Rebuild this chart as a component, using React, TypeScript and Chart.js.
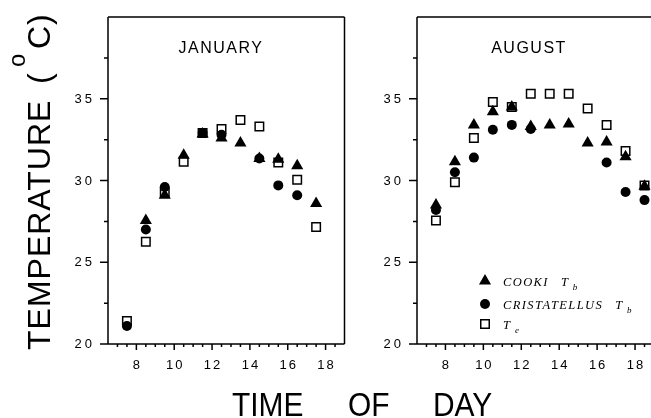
import React, { useEffect, useRef } from "react";
import { Chart, registerables } from "chart.js";

Chart.register(...registerables);

// ---- data ----
const hours = [7.5, 8.5, 9.5, 10.5, 11.5, 12.5, 13.5, 14.5, 15.5, 16.5, 17.5, 18.5];

const janCooki = [null, 27.55, 29.1, 31.55, 32.85, 32.6, 32.3, 31.35, 31.3, 30.9, 28.6, null];
const janCristatellus = [21.1, 27.0, 29.6, null, 32.9, 32.8, null, 31.35, 29.7, 29.1, null, null];
const janTe = [21.4, 26.25, 29.3, 31.15, 32.9, 33.15, 33.7, 33.3, 31.1, 30.05, 27.15, null];

const augCooki = [28.5, 31.15, 33.4, 34.2, 34.5, 33.3, 33.4, 33.45, 32.3, 32.35, 31.45, 29.65];
const augCristatellus = [28.2, 30.5, 31.4, 33.1, 33.4, 33.15, null, null, null, 31.1, 29.3, 28.8];
const augTe = [27.55, 29.9, 32.6, 34.8, 34.5, 35.3, 35.3, 35.3, 34.4, 33.4, 31.8, 29.7];

const xTickValues = [8, 10, 12, 14, 16, 18];
const yTickValues = [20, 25, 30, 35];
const xMinorStep = 0.5;
const yMinorStep = 2.5;
const X_MIN = 6.5;
const X_MAX = 19;
const Y_MIN = 20;
const Y_MAX = 40;

const legendLabels = ["COOKI", "CRISTATELLUS", ""];
const SANS = '"Liberation Sans", Arial, sans-serif';
const SERIF = '"Liberation Serif", "Times New Roman", serif';

function toPoints(vals: (number | null)[]) {
  const out: { x: number; y: number }[] = [];
  hours.forEach((h, i) => {
    const v = vals[i];
    if (v !== null && v !== undefined) out.push({ x: h, y: v });
  });
  return out;
}

type PanelProps = {
  left: number;
  width: number;
  yAxisWidth: number;
  padRight: number;
  title: string;
  titleCenter: number;
  cooki: (number | null)[];
  crist: (number | null)[];
  te: (number | null)[];
  rightBorder: boolean;
  yTitle: boolean;
  legend: boolean;
};

function drawTriangle(ctx: CanvasRenderingContext2D, x: number, y: number, r: number) {
  ctx.beginPath();
  ctx.moveTo(x, y - r);
  ctx.lineTo(x + r * Math.sin((2 * Math.PI) / 3), y - r * Math.cos((2 * Math.PI) / 3));
  ctx.lineTo(x + r * Math.sin((4 * Math.PI) / 3), y - r * Math.cos((4 * Math.PI) / 3));
  ctx.closePath();
  ctx.fill();
}

function Panel(p: PanelProps) {
  const ref = useRef<HTMLCanvasElement | null>(null);
  useEffect(() => {
    if (!ref.current) return;
    const decor = {
      id: "decor",
      beforeDatasetsDraw(chart: any) {
        const { ctx, chartArea: a, scales } = chart;
        const xs = scales.x;
        const ys = scales.y;
        ctx.save();
        ctx.strokeStyle = "#000";
        ctx.lineWidth = 1.5;
        ctx.beginPath();
        ctx.moveTo(a.left, a.top);
        ctx.lineTo(a.left, a.bottom);
        ctx.moveTo(a.left, a.bottom);
        ctx.lineTo(a.right, a.bottom);
        ctx.moveTo(a.left, a.top);
        ctx.lineTo(a.right, a.top);
        if (p.rightBorder) {
          ctx.moveTo(a.right, a.top);
          ctx.lineTo(a.right, a.bottom);
        }
        for (let v = Y_MIN; v < Y_MAX - 0.01; v += yMinorStep) {
          const y = ys.getPixelForValue(v);
          const len = v % 5 === 0 ? 8 : 4;
          ctx.moveTo(a.left - len, y);
          ctx.lineTo(a.left, y);
        }
        for (let v = X_MIN + 0.5; v < X_MAX - 0.01; v += xMinorStep) {
          const x = xs.getPixelForValue(v);
          const len = v % 2 === 0 ? 6 : 3;
          ctx.moveTo(x, a.bottom);
          ctx.lineTo(x, a.bottom + len);
        }
        ctx.stroke();

        ctx.fillStyle = "#000";
        ctx.font = `13px ${SANS}`;
        (ctx as any).letterSpacing = "3px";
        ctx.textAlign = "right";
        ctx.textBaseline = "middle";
        ys.ticks.forEach((t: any) => {
          ctx.fillText(String(t.value), a.left - 16 + 3, ys.getPixelForValue(t.value) + 0.5);
        });
        (ctx as any).letterSpacing = "2px";
        ctx.textAlign = "center";
        xs.ticks.forEach((t: any) => {
          ctx.fillText(String(t.value), xs.getPixelForValue(t.value) + 1, a.bottom + 21);
        });

        // panel title
        ctx.font = `16px ${SANS}`;
        (ctx as any).letterSpacing = "1.5px";
        ctx.textAlign = "center";
        ctx.textBaseline = "alphabetic";
        ctx.fillText(p.title, p.titleCenter, 53);

        if (p.yTitle) {
          ctx.save();
          ctx.translate(50, 350);
          ctx.rotate(-Math.PI / 2);
          ctx.textAlign = "left";
          ctx.textBaseline = "alphabetic";
          ctx.font = `32px ${SANS}`;
          (ctx as any).letterSpacing = "1px";
          ctx.fillText("TEMPERATURE", 0, 0);
          ctx.fillText("(", 266, 0);
          ctx.font = `24px ${SANS}`;
          ctx.fillText("o", 283, -25);
          ctx.font = `32px ${SANS}`;
          ctx.fillText("C", 301, 0);
          ctx.fillText(")", 325, 0);
          ctx.restore();
        }

        if (p.legend) {
          const mx = 133;
          const tx = 151;
          const rows = [281, 304, 324];
          ctx.fillStyle = "#000";
          drawTriangle(ctx, mx, rows[0], 7);
          ctx.beginPath();
          ctx.arc(mx, rows[1], 5, 0, Math.PI * 2);
          ctx.fill();
          ctx.fillStyle = "#fff";
          ctx.fillRect(mx - 4.25, rows[2] - 4.25, 8.5, 8.5);
          ctx.strokeRect(mx - 4.25, rows[2] - 4.25, 8.5, 8.5);
          ctx.fillStyle = "#000";
          ctx.textAlign = "left";
          ctx.textBaseline = "alphabetic";
          const subs = ["b", "b", "e"];
          rows.forEach((ry, i) => {
            ctx.font = `italic 12.5px ${SERIF}`;
            (ctx as any).letterSpacing = "1.4px";
            let x = tx;
            if (legendLabels[i]) {
              ctx.fillText(legendLabels[i], x, ry + 4.5);
              x += ctx.measureText(legendLabels[i]).width + 12;
            }
            (ctx as any).letterSpacing = "0px";
            ctx.fillText("T", x, ry + 4.5);
            x += ctx.measureText("T").width + 5;
            ctx.font = `italic 9px ${SERIF}`;
            ctx.fillText(subs[i], x, ry + 8.5);
          });
        }
        ctx.restore();
      },
    };

    const chart = new Chart(ref.current, {
      type: "scatter",
      data: {
        datasets: [
          {
            label: "COOKI Tb",
            data: toPoints(p.cooki),
            pointStyle: "triangle",
            pointRadius: 7,
            backgroundColor: "#000",
            borderColor: "#000",
            borderWidth: 0,
          },
          {
            label: "CRISTATELLUS Tb",
            data: toPoints(p.crist),
            pointStyle: "circle",
            pointRadius: 5,
            backgroundColor: "#000",
            borderColor: "#000",
            borderWidth: 0,
          },
          {
            label: "Te",
            data: toPoints(p.te),
            pointStyle: "rect",
            pointRadius: 6,
            backgroundColor: "#fff",
            borderColor: "#000",
            borderWidth: 1.5,
          },
        ],
      },
      options: {
        responsive: false,
        animation: false,
        events: [],
        layout: { padding: { left: 0, right: p.padRight, top: 17, bottom: 0 } },
        plugins: { legend: { display: false }, tooltip: { enabled: false } },
        scales: {
          x: {
            type: "linear",
            min: X_MIN,
            max: X_MAX,
            grid: { display: false },
            border: { display: false },
            ticks: { display: false },
            afterBuildTicks: (axis: any) => {
              axis.ticks = xTickValues.map((v) => ({ value: v }));
            },
            afterFit: (axis: any) => {
              axis.height = 74;
            },
          },
          y: {
            type: "linear",
            min: Y_MIN,
            max: Y_MAX,
            grid: { display: false },
            border: { display: false },
            ticks: { display: false },
            afterBuildTicks: (axis: any) => {
              axis.ticks = yTickValues.map((v) => ({ value: v }));
            },
            afterFit: (axis: any) => {
              axis.width = p.yAxisWidth;
            },
          },
        },
      },
      plugins: [decor],
    });
    return () => chart.destroy();
  }, []);
  return (
    <canvas
      ref={ref}
      width={p.width}
      height={418}
      style={{ position: "absolute", left: p.left, top: 0, width: p.width, height: 418 }}
    />
  );
}

const titleWordStyle: React.CSSProperties = {
  position: "absolute",
  top: 387,
  fontFamily: SANS,
  fontSize: 34,
  lineHeight: "34px",
  color: "#000",
  transform: "scaleX(0.88)",
  transformOrigin: "left top",
  whiteSpace: "nowrap",
};

export default function App() {
  return (
    <div
      style={{
        position: "absolute",
        left: 0,
        top: 0,
        width: 651,
        height: 418,
        overflow: "hidden",
        background: "#fff",
      }}
    >
      <Panel
        left={0}
        width={352}
        yAxisWidth={108}
        padRight={6}
        title="JANUARY"
        titleCenter={221}
        cooki={janCooki}
        crist={janCristatellus}
        te={janTe}
        rightBorder={true}
        yTitle={true}
        legend={false}
      />
      <Panel
        left={352}
        width={310}
        yAxisWidth={65}
        padRight={8}
        title="AUGUST"
        titleCenter={177}
        cooki={augCooki}
        crist={augCristatellus}
        te={augTe}
        rightBorder={true}
        yTitle={false}
        legend={true}
      />
      <div style={{ ...titleWordStyle, left: 232 }}>TIME</div>
      <div style={{ ...titleWordStyle, left: 348 }}>OF</div>
      <div style={{ ...titleWordStyle, left: 433 }}>DAY</div>
    </div>
  );
}
